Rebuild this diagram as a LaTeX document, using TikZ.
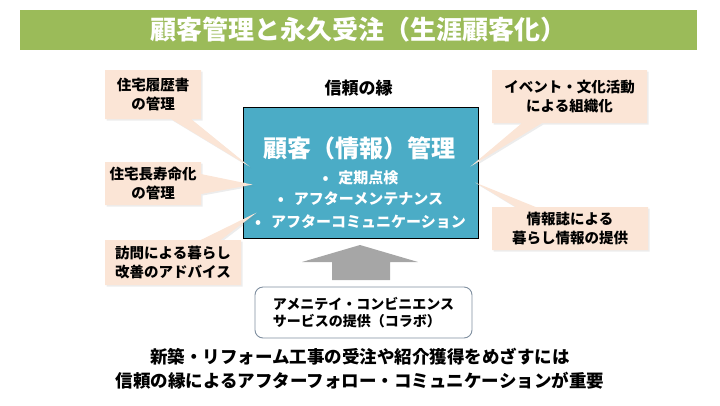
\documentclass[tikz,border=0pt]{standalone}
\usepackage{fontspec}
\setmainfont{Noto Sans CJK JP}
\usetikzlibrary{positioning,calc,shapes.callouts,shadows}
\definecolor{titlegreen}{HTML}{9BBB59}
\definecolor{coreblue}{HTML}{4BACC6}
\definecolor{peach}{HTML}{FBE5D6}
\definecolor{arrowgray}{HTML}{A6A6A6}
\definecolor{slateedge}{HTML}{7F8FA0}

\begin{document}
\begin{tikzpicture}[x=1pt, y=-1pt,
  titlebar/.style={rectangle, fill=titlegreen, text=white, minimum width=677pt, minimum height=40pt, font=\fontsize{26}{30}\selectfont\bfseries},
  bubble/.style={rectangle callout, fill=peach, align=center, inner sep=2pt, callout pointer width=20pt, font=\fontsize{14.5}{19.5}\selectfont\bfseries, drop shadow={opacity=0.15, shadow xshift=1.5pt, shadow yshift=-1.5pt}},
  corebox/.style={rectangle, draw=black, line width=0.8pt, fill=coreblue, minimum width=235pt, minimum height=131pt},
  coretitle/.style={text=white, font=\fontsize{24}{28}\selectfont\bfseries},
  item/.style={text=white, font=\fontsize{15}{18}\selectfont\bfseries},
  collabbox/.style={rectangle, rounded corners=8pt, draw=slateedge, line width=0.9pt, fill=white, align=left, minimum width=217pt, minimum height=51pt, font=\fontsize{14}{17}\selectfont\bfseries},
  plain/.style={align=center, font=\fontsize{17.5}{24}\selectfont\bfseries}
]
\useasboundingbox (0,0) rectangle (720,405);

\node[titlebar] (title) at (358.5,30) {顧客管理と永久受注（生涯顧客化）};

\node[corebox] (core) at (360.5,172.5) {};
\node[coretitle] (coreh) at ($(core.north)+(-1,42)$) {顧客（情報）管理};
\node[item] (b1) at ($(core.north)+(0,71)$) {•\hspace{10pt}定期点検};
\node[item] (b2) at ($(core.north)+(0,92)$) {•\hspace{10pt}アフターメンテナンス};
\node[item] (b3) at ($(core.north)+(0,115)$) {•\hspace{10pt}アフターコミュニケーション};
\node[plain, font=\fontsize{17}{20}\selectfont\bfseries] (trust) at ($(core.north)+(-2,-19)$) {信頼の縁};

\node[bubble, minimum width=96pt, minimum height=49pt, callout absolute pointer={($(core.north west)+(7,60)$)}] (hist) at (153,94.5) {住宅履歴書\\の管理};
\node[bubble, minimum width=96pt, minimum height=43pt, callout absolute pointer={($(core.north west)+(10,78)$)}] (life) at (153,183.5) {住宅長寿命化\\の管理};
\node[bubble, minimum width=136pt, minimum height=45pt, callout absolute pointer={($(core.north west)+(14,106)$)}] (visit) at (173,262.5) {訪問による暮らし\\改善のアドバイス};
\node[bubble, minimum width=155pt, minimum height=53pt, callout absolute pointer={($(core.north east)+(-8,60)$)}] (event) at (569.5,96.5) {イベント・文化活動\\による組織化};
\node[bubble, minimum width=156pt, minimum height=43pt, callout absolute pointer={($(core.north east)+(-3,76)$)}] (mag) at (570,228.5) {情報誌による\\暮らし情報の提供};

\node[collabbox] (collab) at (363.5,312.5) {アメニテイ・コンビニエンス\\サービスの提供（コラボ）};
\fill[arrowgray] (302,262) -- (360,245) -- (418,262) -- (390,262) -- (390,280) -- (332,280) -- (332,262) -- cycle;

\node[plain] (summary) at (360,369) {新築・リフォーム工事の受注や紹介獲得をめざすには\\信頼の縁によるアフターフォロー・コミュニケーションが重要};

\end{tikzpicture}
\end{document}
